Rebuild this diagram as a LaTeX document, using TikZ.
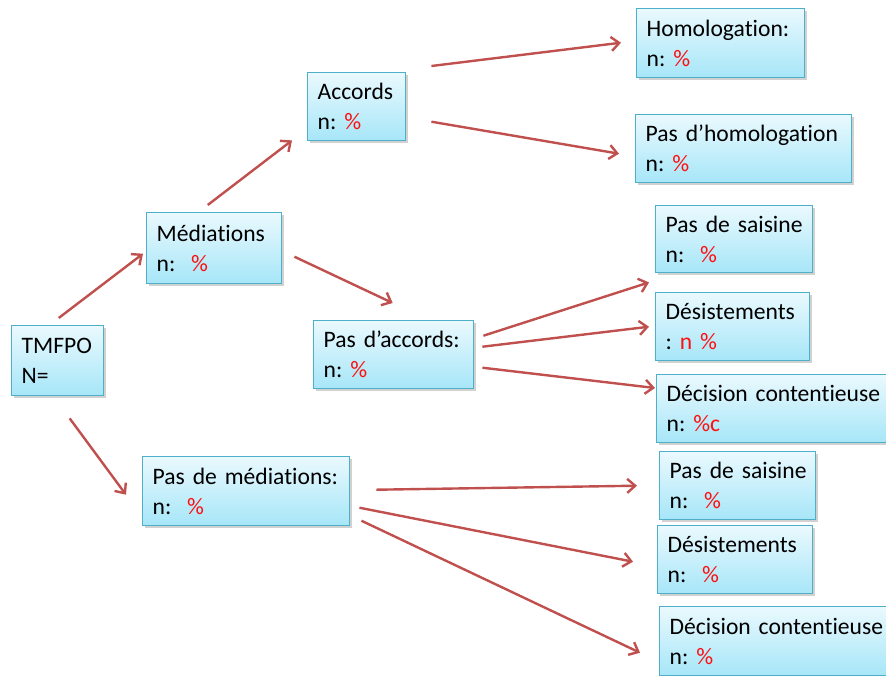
\documentclass[tikz,border=0pt]{standalone}
\usepackage{fontspec}
\setmainfont[Ligatures=CommonOff]{Carlito}
\usetikzlibrary{calc,shadows,arrows.meta}
\definecolor{boxtop}{HTML}{EAF9FE}
\definecolor{boxbot}{HTML}{A6E6F8}
\definecolor{boxline}{HTML}{4EAFC9}
\definecolor{arrred}{HTML}{C0504D}
\definecolor{numred}{HTML}{FF1010}
\tikzset{
  boxnode/.style 2 args={draw=boxline, line width=0.7pt, top color=boxtop, bottom color=boxbot,
    anchor=north west, align=left, inner xsep=5pt, inner ysep=0pt,
    text width=#1, minimum height=#2, font=\fontsize{11.8}{15}\selectfont\frenchspacing,
    drop shadow={shadow xshift=1.2pt, shadow yshift=-1.2pt, opacity=0.3, fill=black!60}},
  arr/.style={draw=arrred, line width=1.2pt, -{Straight Barb[length=4pt,width=7pt,line width=1.2pt]}},
}
\newcommand{\rd}[1]{\textcolor{numred}{#1}}
\newcommand{\bl}[2]{\mbox{#1}\\\mbox{#2}}
\begin{document}
\begin{tikzpicture}[x=0.5pt,y=-0.5pt]
\useasboundingbox (0,0) rectangle (886,675);
\clip (0,0) rectangle (886,675);
\node[boxnode={36pt}{35pt}] (tm) at (11,325) {\bl{TMFPO}{N=}};
\node[boxnode={57.5pt}{35.5pt}] (med) at (146,212) {\bl{Médiations}{n:\ \ \rd{\%}}};
\node[boxnode={39pt}{34pt}] (acc) at (307,72) {\bl{Accords}{n: \rd{\%}}};
\node[boxnode={74pt}{34.5pt}] (hom) at (636,8) {\bl{Homologation:}{n: \rd{\%}}};
\node[boxnode={98pt}{34pt}] (phom) at (635,114) {\bl{Pas d’homologation}{n: \rd{\%}}};
\node[boxnode={70pt}{34pt}] (pacc) at (313,320) {\bl{Pas d’accords:}{n: \rd{\%}}};
\node[boxnode={68.5pt}{33.5pt}] (ps1) at (655,205) {\bl{Pas de saisine}{n:\ \ \rd{\%}}};
\node[boxnode={67pt}{34pt}] (des1) at (655,292) {\bl{Désistements}{: \rd{n \%}}};
\node[boxnode={110pt}{34pt}] (dec1) at (656,374) {\bl{Décision contentieuse}{n: \rd{\%c}}};
\node[boxnode={93.5pt}{34.5pt}] (pmed) at (142,456) {\bl{Pas de médiations:}{n:\ \ \rd{\%}}};
\node[boxnode={68pt}{34pt}] (ps2) at (659,451) {\bl{Pas de saisine}{n:\ \ \rd{\%}}};
\node[boxnode={67.5pt}{34pt}] (des2) at (657,525) {\bl{Désistements}{n:\ \ \rd{\%}}};
\node[boxnode={110pt}{34.5pt}] (dec2) at (659,606) {\bl{Décision contentieuse}{n: \rd{\%}}};

\draw[arr] ($(tm.north)+(1,-7)$) -- ($(med.west)+(-3,5.5)$);
\draw[arr] ($(tm.south)+(12,22)$) -- ($(pmed.west)+(-16,3.5)$);
\draw[arr] ($(med.north)+(-6.5,-7)$) -- ($(acc.south west)+(-15,-1)$);
\draw[arr] ($(med.east)+(12,8.5)$) -- ($(pacc.north)+(-1,-17)$);
\draw[arr] ($(acc.north east)+(25,-6)$) -- ($(hom.west)+(-15,-0.5)$);
\draw[arr] ($(acc.east)+(25,15)$) -- ($(phom.west)+(-16,5)$);
\draw[arr] ($(pacc.east)+(9,-19)$) -- ($(ps1.south west)+(-6,9)$);
\draw[arr] ($(pacc.east)+(8,-8)$) -- ($(des1.west)+(-6,0)$);
\draw[arr] ($(pacc.east)+(8,13)$) -- ($(dec1.north west)+(-1,14)$);
\draw[arr] ($(pmed.east)+(26,-1.5)$) -- ($(ps2.west)+(-22,0)$);
\draw[arr] ($(pmed.east)+(9,16.5)$) -- ($(des2.west)+(-24,2)$);
\draw[arr] ($(pmed.east)+(11,29.5)$) -- ($(dec2.west)+(-19,11.5)$);
\end{tikzpicture}
\end{document}
